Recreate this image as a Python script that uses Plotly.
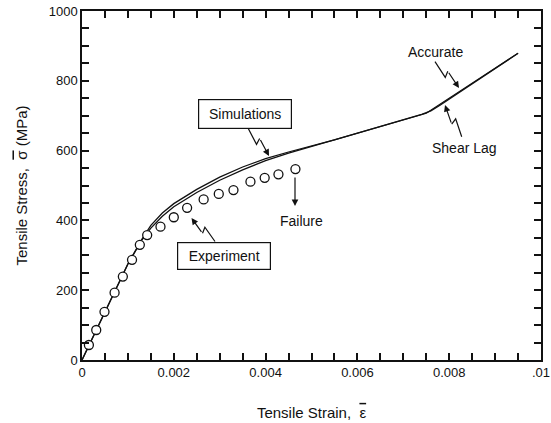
import plotly.graph_objects as go

# ---- data ----
exp_strain = [0.00015, 0.00031, 0.00049, 0.00071, 0.00089, 0.00109, 0.00126, 0.00142,
              0.00171, 0.00200, 0.00229, 0.00265, 0.00298, 0.00330, 0.00367, 0.00398,
              0.00428, 0.00465]
exp_stress = [43, 86, 138, 193, 239, 287, 330, 358, 382, 409, 436, 460, 476, 487, 511, 522, 532, 547]

acc_strain = [0, 0.0005, 0.001, 0.0013, 0.0015, 0.00175, 0.002, 0.0025, 0.003, 0.0035,
              0.004, 0.0045, 0.005, 0.0055, 0.0074, 0.0076, 0.0078, 0.0095]
acc_stress = [0, 138, 275, 345, 386, 421, 448, 489, 524, 553, 577, 596, 613, 631, 704, 714, 730, 879]

sl_strain = [0, 0.0005, 0.001, 0.0013, 0.0015, 0.00175, 0.002, 0.0025, 0.003, 0.0035,
             0.004, 0.0045, 0.005, 0.0055, 0.0075, 0.0095]
sl_stress = [0, 138, 275, 343, 378, 412, 439, 480, 515, 545, 571, 593, 612, 630, 707, 879]

x_tick_labels = {0: "0", 4: "0.002", 8: "0.004", 12: "0.006", 16: "0.008", 20: ".01"}
x_tickvals = [i * 0.0005 for i in range(21)]
x_ticktext = [x_tick_labels.get(i, "") for i in range(21)]
y_tickvals = [i * 50 for i in range(21)]
y_ticktext = [str(v) if v % 200 == 0 else "" for v in y_tickvals]

W, H = 551, 423
ML, MR, MT, MB = 82, 10, 11, 63
X0, X1, Y0, Y1 = 0, 0.01, 0, 1000
PW, PH = W - ML - MR, H - MT - MB
TL = 7  # tick length in px


def dx(px):
    return X0 + (px - ML) / PW * (X1 - X0)


def dy(py):
    return Y0 + (H - MB - py) / PH * (Y1 - Y0)


FONT = "Liberation Sans, Arial, sans-serif"
INK = "#111111"

fig = go.Figure()
for xs, ys in [(sl_strain, sl_stress), (acc_strain, acc_stress)]:
    fig.add_trace(go.Scatter(x=xs, y=ys, mode="lines",
                             line=dict(color=INK, width=1.3), showlegend=False))
fig.add_trace(go.Scatter(x=exp_strain, y=exp_stress, mode="markers",
                         marker=dict(symbol="circle", size=9, color="white",
                                     line=dict(color=INK, width=1.3)),
                         showlegend=False))

shapes = []
annotations = []


def arrow(tail, tip, squiggle=True):
    (tx, ty), (hx, hy) = tail, tip
    vx, vy = hx - tx, hy - ty
    L = (vx ** 2 + vy ** 2) ** 0.5
    ux, uy = vx / L, vy / L
    px_, py_ = -uy, ux
    if squiggle:
        a = (tx + vx * 0.52 + px_ * 3, ty + vy * 0.52 + py_ * 3)
        b = (tx + vx * 0.44 - px_ * 3, ty + vy * 0.44 - py_ * 3)
        pts = [tail, a, b]
    else:
        pts = [tail]
    last = pts[-1]
    path = "M " + " L ".join(f"{dx(x)},{dy(y)}" for x, y in pts)
    if len(pts) > 1:
        shapes.append(dict(type="path", path=path, xref="x", yref="y",
                           line=dict(color=INK, width=1.2)))
    annotations.append(dict(x=dx(hx), y=dy(hy), ax=dx(last[0]), ay=dy(last[1]),
                            xref="x", yref="y", axref="x", ayref="y", text="",
                            showarrow=True, arrowhead=2, arrowsize=1.1,
                            arrowwidth=1.2, arrowcolor=INK, standoff=0))


def label(cx, cy, text, box=False, w=None, h=None):
    d = dict(x=dx(cx), y=dy(cy), xref="x", yref="y", text=text, showarrow=False,
             font=dict(family=FONT, size=14, color=INK))
    if box:
        d.update(bordercolor=INK, borderwidth=1.2, borderpad=2, bgcolor="white",
                 width=w, height=h)
    annotations.append(d)


label(245, 114, "Simulations", box=True, w=88, h=24)
arrow((248, 128), (269, 156))
label(224, 255.5, "Experiment", box=True, w=88, h=22)
arrow((215, 241.5), (191.5, 218))
label(301, 220.7, "Failure")
arrow((295, 176), (295, 206), squiggle=False)
label(435, 51.7, "Accurate")
arrow((435, 61.7), (459, 88))
label(464, 148, "Shear Lag")
arrow((461.7, 136.7), (445, 105))

axis_common = dict(showline=True, linecolor=INK, linewidth=1.5, mirror="allticks",
                   ticks="inside", ticklen=TL, tickwidth=1.6, tickcolor=INK,
                   showgrid=False, zeroline=False, tickmode="array",
                   automargin=False,
                   tickfont=dict(family=FONT, size=13, color=INK))

OV = "<span style='text-decoration:overline'>{}</span>"

fig.update_layout(
    template="none",
    width=W, height=H,
    margin=dict(l=ML, r=MR, t=MT, b=MB),
    paper_bgcolor="white", plot_bgcolor="white",
    shapes=shapes, annotations=annotations,
    xaxis=dict(range=[X0, X1], tickvals=x_tickvals, ticktext=x_ticktext,
               title=dict(text="Tensile Strain,  " + OV.format("\u03b5"),
                          font=dict(family=FONT, size=15, color=INK), standoff=28),
               **axis_common),
    yaxis=dict(range=[Y0, Y1], tickvals=y_tickvals, ticktext=y_ticktext,
               title=dict(text="Tensile Stress,  " + OV.format("\u03c3") + " (MPa)",
                          font=dict(family=FONT, size=15, color=INK), standoff=17),
               **axis_common),
)

fig.write_html("out.html")
